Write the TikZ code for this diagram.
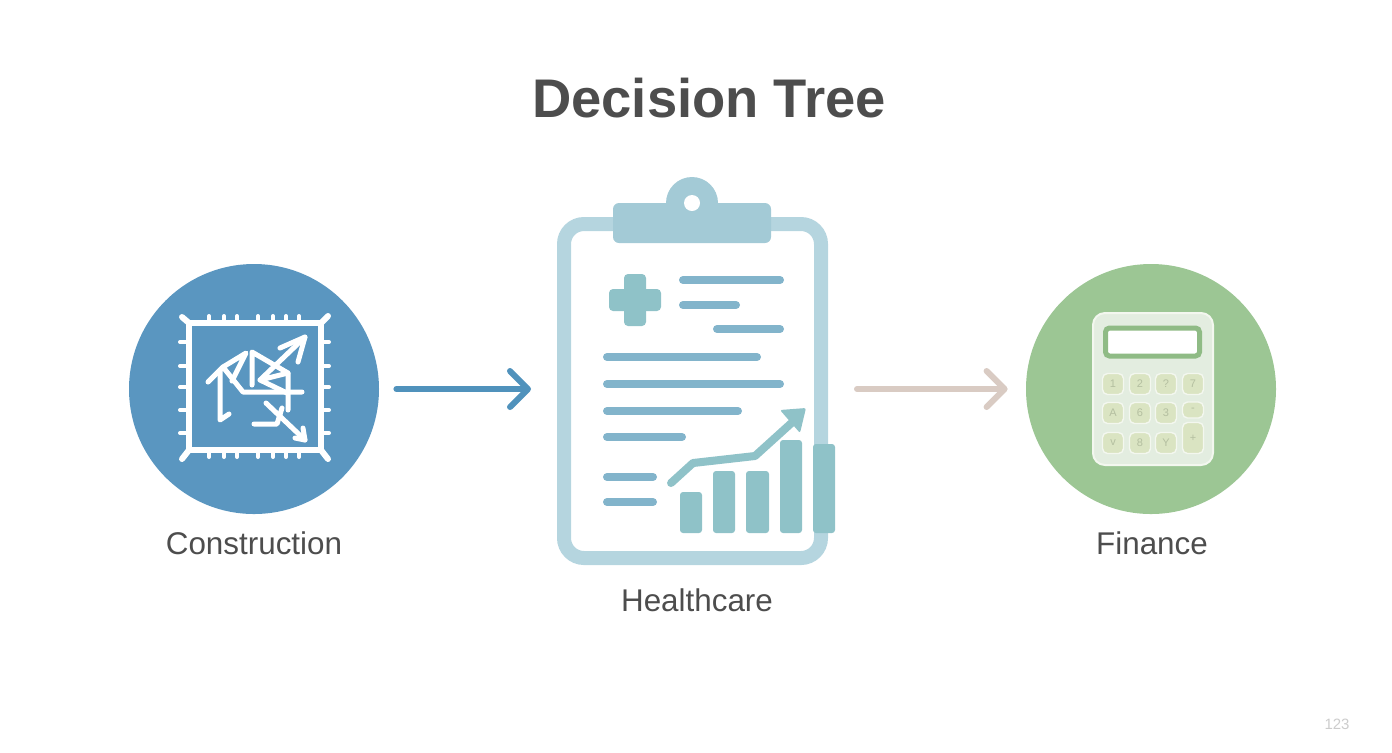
\documentclass[tikz,border=0pt]{standalone}
\usepackage{fontspec}
\setmainfont{Liberation Sans}
\usetikzlibrary{arrows.meta}
\definecolor{txtgray}{HTML}{4D4D4D}
\definecolor{consblue}{HTML}{5A96C0}
\definecolor{arrowblue}{HTML}{5092BC}
\definecolor{arrowtan}{HTML}{D9CBC3}
\definecolor{finegreen}{HTML}{9CC694}
\definecolor{boardblue}{HTML}{B5D5DF}
\definecolor{clipblue}{HTML}{A3CAD6}
\definecolor{rowblue}{HTML}{82B4CB}
\definecolor{barteal}{HTML}{8FC2C8}
\definecolor{calcbody}{HTML}{E3EDE0}
\definecolor{calcedge}{HTML}{F3F7EF}
\definecolor{calcscreen}{HTML}{8FBB85}
\definecolor{keyfill}{HTML}{DAE4C2}
\definecolor{keytext}{HTML}{B4BFA0}
\tikzset{
	iconcircle/.style={circle,minimum size=125pt,inner sep=0pt},
	caption/.style={text=txtgray,font=\fontsize{15.7}{18}\selectfont},
	flowarrow/.style={line width=3pt,line cap=round,-{Straight Barb[round,length=9pt,width=18pt]}},
	sketchline/.style={draw=white,line width=2.5pt,line cap=round,line join=round},
	textrow/.style={draw=rowblue,line width=4pt,line cap=round},
	chartbar/.style={fill=barteal,rounded corners=1.5pt},
	calckey/.style={draw=calcedge,fill=keyfill,line width=.7pt,rounded corners=2.5pt,minimum size=10.5pt,inner sep=0pt,text=keytext,font=\fontsize{5.5}{6}\selectfont},
}
\begin{document}
\begin{tikzpicture}[x=.5pt,y=-.5pt]
	\useasboundingbox (0,0) rectangle (1392,752);

	\node(title) at (709,98){\fontsize{27.2}{30}\selectfont\bfseries\textcolor{txtgray}{Decision Tree}};

	% construction
	\node[iconcircle,fill=consblue](cons) at (254,389){};
	\draw[sketchline,line width=3pt] (189,323) rectangle (321,450);
	\draw[sketchline,line width=3pt] (182,317) -- (189,323) (328,316) -- (321,323) (182,459) -- (189,450) (328,459) -- (321,450);
	\foreach \x in {209,224,237,258,273,286,299}{
		\draw[sketchline,line width=2pt] (\x,323) -- (\x,316);
		\draw[sketchline,line width=2pt] (\x,450) -- (\x,457);
	}
	\foreach \y in {342,366,387,410,433}{
		\draw[sketchline,line width=2pt] (189,\y) -- (180,\y);
		\draw[sketchline,line width=2pt] (321,\y) -- (329,\y);
	}
	\draw[sketchline] (208,382) -- (223,367) -- (246,353) -- (232,381);
	\draw[sketchline] (223,367) -- (243,392) -- (302,392);
	\draw[sketchline] (220,370) -- (220,420) -- (229,414);
	\draw[sketchline] (252,385) -- (252,352) -- (288,373) -- (288,410);
	\draw[sketchline] (288,373) -- (260,380) -- (305,337);
	\draw[sketchline] (280,348) -- (305,337) -- (298,362);
	\draw[sketchline] (260,380) -- (287,393);
	\draw[sketchline] (266,403) -- (305,440);
	\draw[sketchline] (295,438) -- (305,440) -- (303,428);
	\draw[sketchline] (254,424) -- (277,424) -- (282,408);
	\node[caption](conslabel) at (254,543){Construction};

	% healthcare
	\node[draw=boardblue,line width=7pt,rounded corners=10pt,minimum width=128.5pt,minimum height=167pt,inner sep=0pt](board) at (692.5,391){};
	\fill[clipblue] (692,203) circle (26);
	\fill[clipblue,rounded corners=3pt] (613,203) rectangle (771,243);
	\fill[white] (692,203) circle (8);
	\fill[barteal,rounded corners=2pt] (624,274) rectangle (646,326);
	\fill[barteal,rounded corners=2pt] (609,289) rectangle (661,311);
	\foreach \x/\y/\w in {683/280/780,683/305/736,717/329/780,607/357/757,607/384/780,607/411/738,607/437/682,607/477/653,607/502/653}{
		\draw[textrow] (\x,\y) -- (\w,\y);
	}
	\foreach \x/\y/\w in {680/492/702,713/471/735,746/471/769,780/440/802,813/444/835}{
		\fill[chartbar] (\x,\y) rectangle (\w,533);
	}
	\draw[barteal,line width=4pt,line cap=round,line join=round] (671,483) -- (693,463) -- (755,456) -- (797,418);
	\fill[barteal,rounded corners=1pt] (806,408) -- (780,410) -- (800,433) -- cycle;
	\node[caption](boardlabel) at (697,600){Healthcare};

	% finance
	\node[iconcircle,fill=finegreen](fin) at (1151,389){};
	\filldraw[draw=calcedge,fill=calcbody,line width=1pt,rounded corners=6pt] (1093,313) rectangle (1213,465);
	\filldraw[draw=calcscreen,fill=white,line width=2.5pt,rounded corners=2pt] (1105.5,328) rectangle (1199.5,356);
	\foreach \x/\y/\t/\n in {1113/384/1/a,1140/384/2/b,1166/384/?/c,1193/384/7/d,1113/413/A/e,1140/413/6/f,1166/413/3/g,1113/443/v/h,1140/443/8/i,1166/443/Y/j}{
		\node[calckey](key\n) at (\x,\y){\t};
	}
	\node[calckey,minimum height=8pt](keyminus) at (1193,410){-};
	\node[calckey,minimum height=15.5pt](keyplus) at (1193,438){+};
	\node[caption](finlabel) at (1152,543){Finance};

	% arrows
	\draw[flowarrow,draw=arrowblue,shorten <=8.5pt,shorten >=13pt] (cons) -- (cons -| board.west);
	\draw[flowarrow,draw=arrowtan,shorten <=14.5pt,shorten >=9pt] (fin -| board.east) -- (fin);

	\node[text=black!20,font=\fontsize{7.5}{8}\selectfont](pagenum) at (1337,724){123};
\end{tikzpicture}
\end{document}
